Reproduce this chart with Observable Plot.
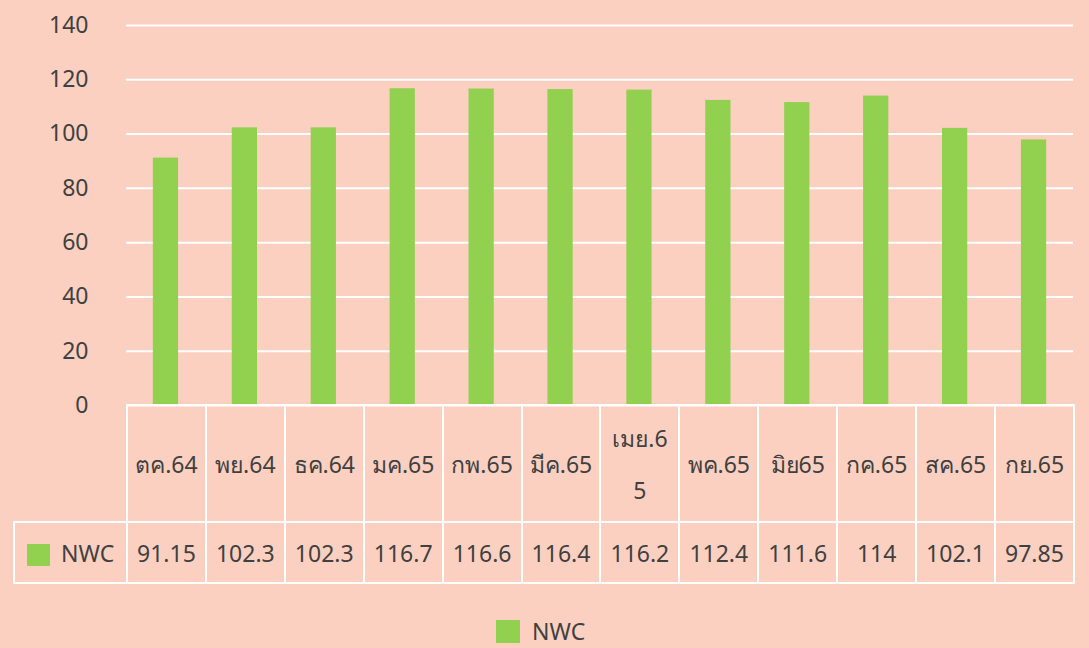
<!DOCTYPE html>
<html>
<head>
<meta charset="utf-8">
<script src="https://cdn.jsdelivr.net/npm/d3@7"></script>
<script src="https://cdn.jsdelivr.net/npm/@observablehq/plot@0.6"></script>
<style>
  html, body { margin: 0; padding: 0; background: #FBD0C0; }
  #wrap { position: relative; width: 1089px; height: 648px; background: #FBD0C0; overflow: hidden;
    font-family: "Noto Sans", "DejaVu Sans", Tahoma, sans-serif; color: #404040; }
  #chart { position: absolute; left: 0; top: 0; }
  #table { position: absolute; left: 13px; top: 404px; border-collapse: collapse; table-layout: fixed; font-size: 23px; }
  #table td { border: 2px solid #fff; text-align: center; padding: 0; overflow: visible; white-space: nowrap; }
  #table td.corner { border: none; }
  #table tr.head td { height: 115px; line-height: 52px; }
  #table tr.vals td { height: 59px; }
  .sw { display: inline-block; width: 23px; height: 22px; background: #92D050; vertical-align: middle; }
  #legend { position: absolute; left: 496px; top: 615px; font-size: 23px; display: flex; align-items: center; gap: 12px; }
</style>
</head>
<body>
<div id="wrap">
  <div id="chart"></div>
  <table id="table"></table>
  <div id="legend"></div>
</div>
<script>
const seriesName = "NWC";
const months = ["ตค.64","พย.64","ธค.64","มค.65","กพ.65","มีค.65","เมย.65","พค.65","มิย65","กค.65","สค.65","กย.65"];
const values = [91.15, 102.3, 102.3, 116.7, 116.6, 116.4, 116.2, 112.4, 111.6, 114, 102.1, 97.85];
const valueLabels = ["91.15","102.3","102.3","116.7","116.6","116.4","116.2","112.4","111.6","114","102.1","97.85"];
const yTicks = [0, 20, 40, 60, 80, 100, 120, 140];

const data = months.map((m, i) => ({month: m, value: values[i]}));
const green = "#92D050";

const chart = Plot.plot({
  width: 1089,
  height: 425,
  marginTop: 25,
  marginBottom: 20,
  marginLeft: 126,
  marginRight: 16,
  style: {background: "transparent", fontFamily: "'Noto Sans', 'DejaVu Sans', sans-serif", fontSize: "23px", color: "#404040"},
  x: {domain: months, paddingInner: 0.68, paddingOuter: 0.34, round: false, axis: null},
  y: {domain: [0, 140], ticks: yTicks, label: null},
  marks: [
    Plot.gridY(yTicks, {stroke: "#fff", strokeOpacity: 1, strokeWidth: 2}),
    Plot.barY(data, {x: "month", y: "value", fill: green}),
    Plot.axisY(yTicks, {tickSize: 0, tickPadding: 38, fill: "#404040", fontSize: 23, label: null})
  ]
});
document.getElementById("chart").appendChild(chart);

// data table aligned to the band scale
const xs = chart.scale("x");
const step = xs.step;
const left = xs.range[0];
const table = document.getElementById("table");
const firstCol = left - 13;
table.style.width = (firstCol + step * months.length) + "px";
const colgroup = document.createElement("colgroup");
const c0 = document.createElement("col"); c0.style.width = firstCol + "px"; colgroup.appendChild(c0);
months.forEach(() => { const c = document.createElement("col"); c.style.width = step + "px"; colgroup.appendChild(c); });
table.appendChild(colgroup);

const head = document.createElement("tr"); head.className = "head";
const corner = document.createElement("td"); corner.className = "corner"; head.appendChild(corner);
months.forEach(m => {
  const td = document.createElement("td");
  if (m === "เมย.65") { td.innerHTML = "เมย.6<br>5"; } else { td.textContent = m; }
  head.appendChild(td);
});
table.appendChild(head);

const row = document.createElement("tr"); row.className = "vals";
const lab = document.createElement("td");
lab.style.textAlign = "left";
lab.innerHTML = '<span class="sw" style="margin-left:12px;margin-right:11px"></span>' + seriesName;
row.appendChild(lab);
valueLabels.forEach(v => { const td = document.createElement("td"); td.textContent = v; row.appendChild(td); });
table.appendChild(row);

document.getElementById("legend").innerHTML = '<span class="sw" style="width:24px;height:23px"></span><span>' + seriesName + '</span>';
</script>
</body>
</html>
